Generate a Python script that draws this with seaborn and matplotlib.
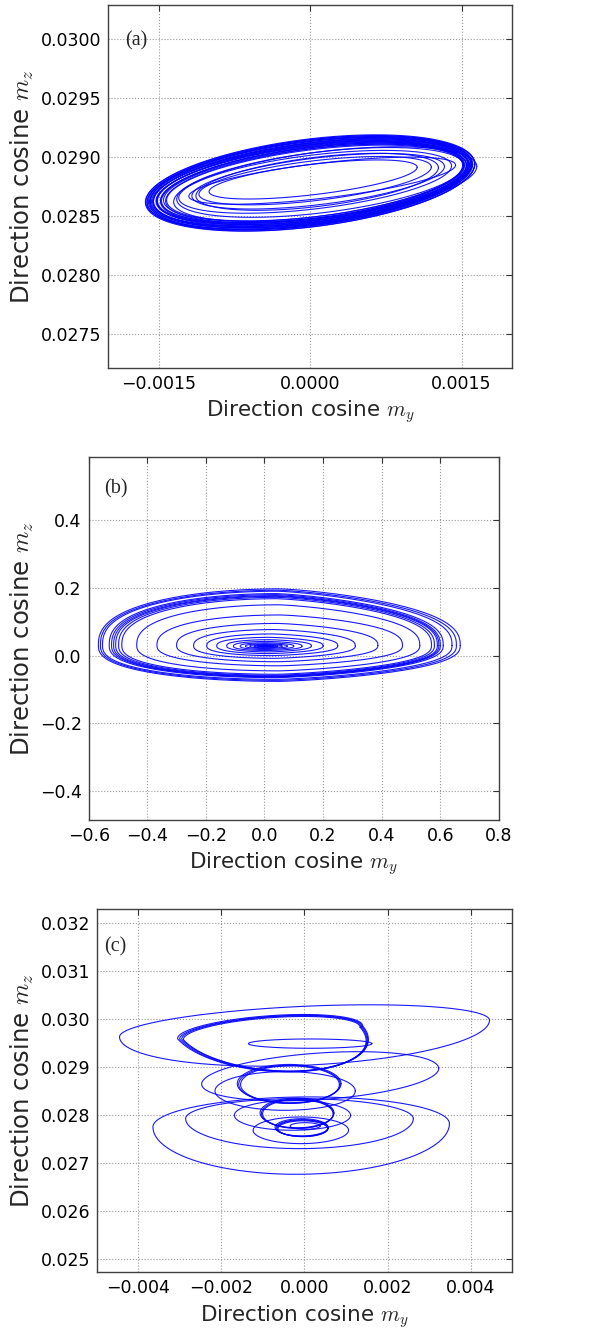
import numpy as np
import pandas as pd
import matplotlib
matplotlib.use("Agg")
import matplotlib.pyplot as plt
import seaborn as sns

# ---------------- Panel (a): tilted bundle of orbits
a_cy = [0.00000, 0.00001, -0.00001, 0.00002, 0.00000, -0.00002, 0.00001, 0.00003,
        -0.00001, 0.00002, 0.00000, 0.00004, -0.00002, 0.00003, 0.00001, 0.00005,
        0.00000, 0.00004, 0.00002, 0.00006, 0.00003, 0.00005,
        0.00003, 0.00005, 0.00008, 0.00005, 0.00010, 0.00015, 0.00012, 0.00007]
a_cz = [0.028780, 0.028778, 0.028782, 0.028779, 0.028781, 0.028777, 0.028783, 0.028780,
        0.028778, 0.028782, 0.028779, 0.028781, 0.028777, 0.028783, 0.028780, 0.028778,
        0.028782, 0.028779, 0.028781, 0.028777, 0.028783, 0.028780,
        0.028810, 0.028800, 0.028795, 0.028790, 0.028785, 0.028770, 0.028800, 0.028790]
a_hw = [0.00163, 0.00162, 0.001615, 0.00161, 0.00160, 0.001595, 0.00159, 0.00158,
        0.001575, 0.00157, 0.00156, 0.001555, 0.00155, 0.00154, 0.001535, 0.00153,
        0.00152, 0.00151, 0.00150, 0.00149, 0.00148, 0.00147,
        0.00103, 0.00115, 0.00125, 0.00135, 0.00142, 0.00150, 0.00132, 0.00120]
a_hh = [0.000375, 0.000370, 0.000366, 0.000362, 0.000358, 0.000354, 0.000350, 0.000346,
        0.000342, 0.000338, 0.000334, 0.000330, 0.000326, 0.000322, 0.000318, 0.000314,
        0.000310, 0.000306, 0.000302, 0.000298, 0.000292, 0.000286,
        0.000130, 0.000170, 0.000200, 0.000230, 0.000260, 0.000280, 0.000150, 0.000210]
a_tilt = 0.100

# ---------------- Panel (b): spiral of loops, outer to inner
b_left = [-0.567, -0.560, -0.553, -0.530, -0.522, -0.515, -0.508, -0.498, -0.487,
          -0.436, -0.367, -0.300, -0.242, -0.197, -0.163, -0.129, -0.106, -0.083,
          -0.065, -0.050, -0.036, -0.024, -0.014]
b_right = [0.668, 0.655, 0.640, 0.610, 0.600, 0.595, 0.590, 0.580, 0.570,
           0.530, 0.471, 0.387, 0.310, 0.250, 0.200, 0.160, 0.128, 0.100,
           0.078, 0.060, 0.045, 0.032, 0.020]
b_top = [0.197, 0.193, 0.190, 0.183, 0.180, 0.177, 0.175, 0.172, 0.168,
         0.150, 0.120, 0.095, 0.077, 0.064, 0.054, 0.047, 0.042, 0.038,
         0.035, 0.033, 0.031, 0.030, 0.029]
b_bottom = [-0.076, -0.073, -0.070, -0.065, -0.063, -0.062, -0.060, -0.058, -0.055,
            -0.045, -0.030, -0.018, -0.008, 0.000, 0.006, 0.011, 0.015, 0.018,
            0.021, 0.023, 0.025, 0.026, 0.027]
b_mid = [0.030, 0.030, 0.030, 0.030, 0.030, 0.030, 0.030, 0.030, 0.030,
         0.030, 0.030, 0.030, 0.029, 0.029, 0.029, 0.029, 0.028, 0.028,
         0.028, 0.028, 0.028, 0.028, 0.028]

# ---------------- Panel (c): loops of the trajectory
c_cy = [0.000000, 0.000137,
        -0.000813, -0.000800, -0.000830, -0.000790,
        -0.000362, -0.000350, -0.000370,
        -0.000169, -0.000160, -0.000180,
        -0.000056, -0.000050, -0.000070, -0.000040,
        0.000016, 0.000378, -0.000467, -0.000121, -0.000080, -0.000290, -0.000089]
c_cz = [0.029806, 0.029493,
        0.029720, 0.029715, 0.029730, 0.029705,
        0.028646, 0.028640, 0.028660,
        0.028035, 0.028030, 0.028050,
        0.027736, 0.027730, 0.027750, 0.027720,
        0.027778, 0.028813, 0.028507, 0.027931, 0.027792, 0.028000, 0.027688]
c_hw = [0.004457, 0.001488,
        0.002196, 0.002160, 0.002230, 0.002130,
        0.001223, 0.001190, 0.001250,
        0.000869, 0.000850, 0.000890,
        0.000628, 0.000610, 0.000640, 0.000600,
        0.000362, 0.002856, 0.001690, 0.002743, 0.003572, 0.001400, 0.001150]
c_top = [0.000465, 0.000097,
         0.000340, 0.000335, 0.000345, 0.000330,
         0.000396, 0.000390, 0.000400,
         0.000306, 0.000300, 0.000310,
         0.000174, 0.000170, 0.000180, 0.000165,
         0.000069, 0.000486, 0.000403, 0.000417, 0.000590, 0.000312, 0.000278]
c_bot = [0.000764, 0.000097,
         0.000800, 0.000785, 0.000815, 0.000775,
         0.000396, 0.000390, 0.000400,
         0.000306, 0.000300, 0.000310,
         0.000174, 0.000170, 0.000180, 0.000165,
         0.000069, 0.000486, 0.000403, 0.000625, 0.001020, 0.000312, 0.000278]
c_tilt = [0.0388, 0.0,
          0.060, 0.060, 0.060, 0.060,
          0.0, 0.0, 0.0,
          0.0, 0.0, 0.0,
          0.0, 0.0, 0.0, 0.0,
          0.0, 0.057, 0.0, 0.0, 0.0097, 0.0, 0.0]
c_shift = [0.0, 0.0,
           0.0008, 0.0008, 0.0008, 0.0008,
           0.0, 0.0, 0.0,
           0.0, 0.0, 0.0,
           0.0, 0.0, 0.0, 0.0,
           0.0, 0.0, 0.0, 0.0, 0.0, 0.0, 0.0]

# ---------------- axis ticks / limits
a_xticks = [-0.0015, 0.0, 0.0015]
a_xlabels = ["\u22120.0015", "0.0000", "0.0015"]
a_yticks = [0.0275, 0.0280, 0.0285, 0.0290, 0.0295, 0.0300]
a_ylabels = ["0.0275", "0.0280", "0.0285", "0.0290", "0.0295", "0.0300"]
b_xticks = [-0.6, -0.4, -0.2, 0.0, 0.2, 0.4, 0.6, 0.8]
b_xlabels = ["\u22120.6", "\u22120.4", "\u22120.2", "0.0", "0.2", "0.4", "0.6", "0.8"]
b_yticks = [-0.4, -0.2, 0.0, 0.2, 0.4]
b_ylabels = ["\u22120.4", "\u22120.2", "0.0", "0.2", "0.4"]
c_xticks = [-0.004, -0.002, 0.0, 0.002, 0.004]
c_xlabels = ["\u22120.004", "\u22120.002", "0.000", "0.002", "0.004"]
c_yticks = [0.025, 0.026, 0.027, 0.028, 0.029, 0.030, 0.031, 0.032]
c_ylabels = ["0.025", "0.026", "0.027", "0.028", "0.029", "0.030", "0.031", "0.032"]


def loop_points(cx, cz, hw, top, bot, tilt=0.0, shift=0.0, p=1.0, q_right=1.0, n=300):
    t = np.linspace(0, 2 * np.pi, n)
    c, s = np.cos(t), np.sin(t)
    sp = np.sign(s) * np.abs(s) ** p
    cq = np.where(c > 0, np.abs(c) ** q_right, c)
    x = cx + hw * cq + np.where(s < 0, -s * shift, 0.0)
    z = cz + tilt * hw * c + np.where(s >= 0, top * sp, bot * sp)
    return x, z


def frame(xs, zs):
    rows = []
    for i, (x, z) in enumerate(zip(xs, zs)):
        rows.append(pd.DataFrame({"my": x, "mz": z, "loop": i}))
    return pd.concat(rows, ignore_index=True)


# build panel data
ax_, az_ = [], []
for cx, cz, hw, hh in zip(a_cy, a_cz, a_hw, a_hh):
    x, z = loop_points(cx, cz, hw, hh, hh, tilt=a_tilt)
    ax_.append(x); az_.append(z)
df_a = frame(ax_, az_)

bx_, bz_ = [], []
for L, R, T, B, M in zip(b_left, b_right, b_top, b_bottom, b_mid):
    x, z = loop_points((L + R) / 2, M, (R - L) / 2, T - M, M - B, p=0.8, q_right=1.5)
    bx_.append(x); bz_.append(z)
df_b = frame(bx_, bz_)

cx_, cz_ = [], []
for cx, cz, hw, tp, bt, tl, sh in zip(c_cy, c_cz, c_hw, c_top, c_bot, c_tilt, c_shift):
    x, z = loop_points(cx, cz, hw, tp, bt, tilt=tl, shift=sh)
    cx_.append(x); cz_.append(z)
df_c = frame(cx_, cz_)

sns.set_style("white")
plt.rcParams["font.family"] = ["DejaVu Sans"]
plt.rcParams["mathtext.fontset"] = "cm"
plt.rcParams["axes.unicode_minus"] = True

fig = plt.figure(figsize=(6.05, 13.31), dpi=100)

panels = [
    dict(pos=[0.1785, 0.7235, 0.668, 0.2727], df=df_a, xlim=(-0.002, 0.002),
         ylim=(0.02721, 0.03029), xt=a_xticks, xl=a_xlabels, yt=a_yticks, yl=a_ylabels,
         tag="(a)", tx=0.042, ty=0.90),
    dict(pos=[0.1466, 0.3839, 0.678, 0.2725], df=df_b, xlim=(-0.6, 0.8),
         ylim=(-0.485, 0.585), xt=b_xticks, xl=b_xlabels, yt=b_yticks, yl=b_ylabels,
         tag="(b)", tx=0.037, ty=0.913),
    dict(pos=[0.1603, 0.0441, 0.686, 0.2727], df=df_c, xlim=(-0.005, 0.005),
         ylim=(0.02473, 0.03229), xt=c_xticks, xl=c_xlabels, yt=c_yticks, yl=c_ylabels,
         tag="(c)", tx=0.017, ty=0.896),
]

for P in panels:
    ax = fig.add_axes(P["pos"])
    sns.lineplot(data=P["df"], x="my", y="mz", units="loop", estimator=None,
                 sort=False, color="#0000ff", linewidth=0.8, alpha=0.9, ax=ax,
                 legend=False)
    ax.set_xlim(*P["xlim"])
    ax.set_ylim(*P["ylim"])
    ax.set_xticks(P["xt"], labels=P["xl"])
    ax.set_yticks(P["yt"], labels=P["yl"])
    ax.tick_params(labelsize=12.5, direction="in", length=4, width=0.8,
                   top=True, right=True, pad=5, colors="0.2", labelcolor="black")
    ax.grid(True, linestyle=":", linewidth=0.8, color="0.6")
    ax.set_axisbelow(True)
    for sp in ax.spines.values():
        sp.set_color("0.25")
        sp.set_linewidth(1.0)
    ax.set_xlabel("Direction cosine $m_y$", fontsize=15.5, labelpad=4)
    ax.set_ylabel("Direction cosine $m_z$", fontsize=17.5, labelpad=3)
    ax.text(P["tx"], P["ty"], P["tag"], transform=ax.transAxes, fontsize=14.5,
            family=["Liberation Serif", "DejaVu Serif"], va="center", ha="left")

fig.savefig("out.png", dpi=100)
